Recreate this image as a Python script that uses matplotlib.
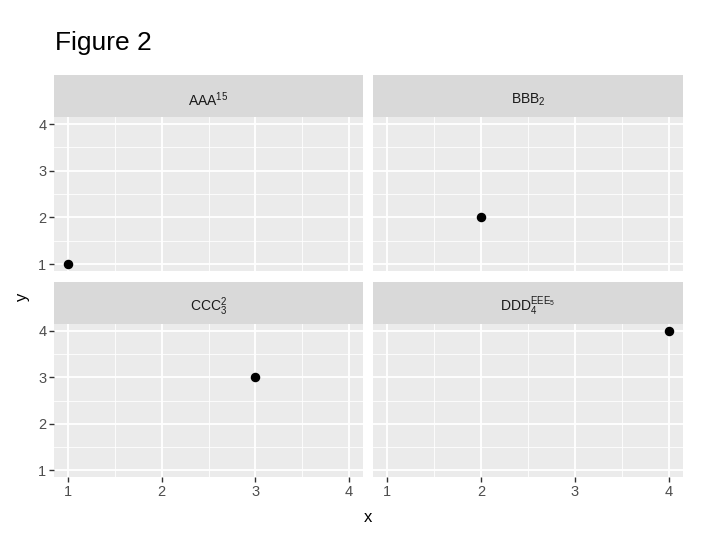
import matplotlib
matplotlib.use("Agg")
import matplotlib.pyplot as plt

plt.rcParams['font.family'] = ['Liberation Sans', 'DejaVu Sans']
plt.rcParams['mathtext.default'] = 'regular'

# data
panel_labels = [r'AAA$^{15}$', r'BBB$_2$', r'CCC$_3^2$', r'DDD$_4^{EEE_5}$']
xs = [1, 2, 3, 4]
ys = [1, 2, 3, 4]
ticks = [1, 2, 3, 4]
minor = [1.5, 2.5, 3.5]

W, H = 720, 539
fig = plt.figure(figsize=(W / 100, H / 100), dpi=100)

def box(l, t, r, b):
    # pixel box -> figure fraction
    return [l / W, 1 - b / H, (r - l) / W, (b - t) / H]

cols = [(54, 363), (373, 683)]
rows = [(75, 117, 271), (282, 324, 477)]

for k in range(4):
    ri, ci = divmod(k, 2)
    l, r = cols[ci]
    st, pt, pb = rows[ri]

    # strip
    sax = fig.add_axes(box(l, st, r, pt))
    sax.set_facecolor('#D9D9D9')
    sax.set_xticks([]); sax.set_yticks([])
    for s in sax.spines.values():
        s.set_visible(False)
    sax.text(0.5, 0.42, panel_labels[k], ha='center', va='center',
             fontsize=10, color='#1A1A1A', transform=sax.transAxes)

    ax = fig.add_axes(box(l, pt, r, pb))
    ax.set_facecolor('#EBEBEB')
    ax.set_xlim(0.85, 4.15)
    ax.set_ylim(0.85, 4.15)
    ax.set_xticks(ticks); ax.set_yticks(ticks)
    ax.set_xticks(minor, minor=True); ax.set_yticks(minor, minor=True)
    ax.grid(True, which='major', color='white', lw=1.3)
    ax.grid(True, which='minor', color='white', lw=0.6)
    ax.set_axisbelow(True)
    for s in ax.spines.values():
        s.set_visible(False)
    ax.tick_params(which='minor', length=0)
    ax.tick_params(which='major', length=3.5, width=1, color='#333333',
                   labelcolor='#4D4D4D', labelsize=10.5, pad=2)
    if ci == 1:
        ax.tick_params(axis='y', length=0, labelleft=False)
    if ri == 0:
        ax.tick_params(axis='x', length=0, labelbottom=False)

    ax.scatter([xs[k]], [ys[k]], s=34, color='black', zorder=3, clip_on=False)

fig.text(55 / W, 1 - 43 / H, 'Figure 2', fontsize=19, ha='left', va='center', color='black')
fig.text(368 / W, 1 - 517 / H, 'x', fontsize=12, ha='center', va='center')
fig.text(22 / W, 1 - 297 / H, 'y', fontsize=12, ha='center', va='center', rotation=90)

fig.savefig('out.png', dpi=100)
